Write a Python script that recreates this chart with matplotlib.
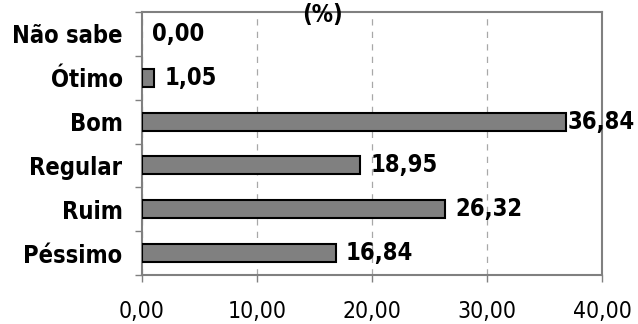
import matplotlib
matplotlib.use("Agg")
import matplotlib.pyplot as plt
import numpy as np

categories = ["Péssimo", "Ruim", "Regular", "Bom", "Ótimo", "Não sabe"]
values = [16.84, 26.32, 18.95, 36.84, 1.05, 0.00]
xticks = [0, 10, 20, 30, 40]
xtick_labels = ["0,00", "10,00", "20,00", "30,00", "40,00"]
title = "(%)"

plt.rcParams['font.family'] = ['DejaVu Sans']
plt.rcParams['font.stretch'] = 'condensed'
fig = plt.figure(figsize=(6.38, 3.24), dpi=100)
ax = fig.add_axes([142/638, 1 - 275/324, (602-142)/638, (275-12)/324])

y = np.arange(len(categories))
lws = [1.5 if v > 0 else 0 for v in values]
ax.barh(y, values, height=0.41, color="#808080", edgecolor="black", linewidth=lws, zorder=3)
for yi, v in zip(y, values):
    off = 0.9 if v < 35 else 0.15
    ax.text(v + off, yi, f"{v:.2f}".replace(".", ","), va="center", ha="left",
            fontsize=17, fontweight="bold", zorder=4, clip_on=False)

ax.set_xlim(0, 40)
ax.set_ylim(-0.5, len(categories) - 0.5)
ax.set_xticks(xticks)
ax.set_xticklabels(xtick_labels, fontsize=16.5)
ax.set_yticks(y)
ax.set_yticklabels(categories, fontsize=17, fontweight="bold")
ax.tick_params(axis="y", length=0, pad=14)
ax.set_yticks(np.arange(-0.5, len(categories)), minor=True)
ax.tick_params(axis="y", which="minor", length=5, color="#808080", width=1)
ax.tick_params(axis="x", length=5, color="#808080", width=1, pad=13)
ax.xaxis.grid(True, linestyle=(0, (5, 5)), color="#a8a8a8", linewidth=0.9, zorder=0)
for s in ax.spines.values():
    s.set_color("#808080")
    s.set_linewidth(1.5)

fig.text(323/638, 1 - 15/324, title, ha="center", va="center", fontsize=17,
         fontweight="bold", zorder=5)
fig.savefig("out.png", dpi=100)
